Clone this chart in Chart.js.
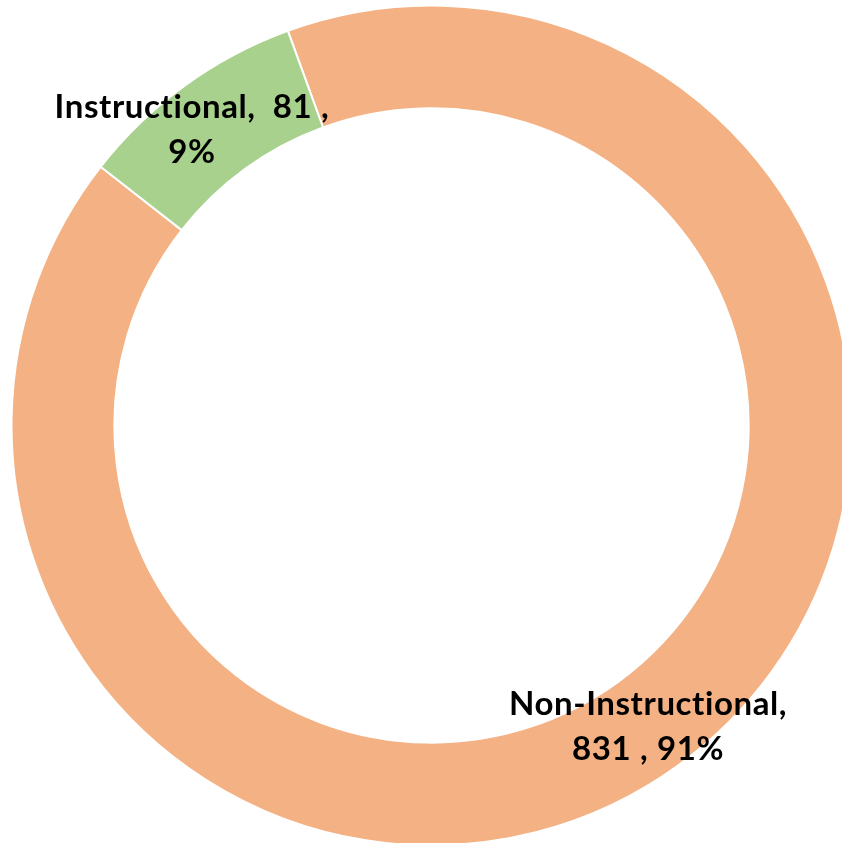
<!DOCTYPE html>
<html lang="en">
<head>
    <meta charset="UTF-8">
    <title>Staff doughnut</title>
    <script src="https://cdn.jsdelivr.net/npm/chart.js"></script>
    <style>
        html, body { margin: 0; padding: 0; background: #fff; overflow: hidden; }
        #wrap { position: absolute; left: 0; top: 0; width: 863px; height: 851px; }
    </style>
</head>
<body>
    <div id="wrap"><canvas id="staffChart" width="863" height="851"></canvas></div>
    <script>
        // Data
        const categories = ['Non-Instructional', 'Instructional'];
        const counts = [831, 81];
        const percents = ['91%', '9%'];
        const colors = ['#F4B183', '#A9D18E'];

        // Label text split into two lines like the original
        const labelLines = [
            ['Non-Instructional,', counts[0] + ' , ' + percents[0]],
            ['Instructional,  ' + counts[1] + ' ,', percents[1]]
        ];

        const sliceLabels = {
            id: 'sliceLabels',
            afterDatasetsDraw(chart) {
                const ctx = chart.ctx;
                const meta = chart.getDatasetMeta(0);
                ctx.save();
                ctx.font = 'bold 33px Lato';
                ctx.letterSpacing = '0.6px';
                ctx.fillStyle = '#000';
                ctx.textAlign = 'center';
                ctx.textBaseline = 'alphabetic';
                meta.data.forEach((arc, i) => {
                    const p = arc.tooltipPosition();
                    const dx = i === 1 ? -23 : 0;
                    const lines = labelLines[i];
                    ctx.fillText(lines[0], p.x + dx, p.y - 9);
                    ctx.fillText(lines[1], p.x + dx, p.y + 36);
                });
                ctx.restore();
            }
        };

        new Chart(document.getElementById('staffChart'), {
            type: 'doughnut',
            data: {
                labels: categories,
                datasets: [{
                    data: counts,
                    backgroundColor: colors,
                    borderColor: '#fff',
                    borderWidth: 2
                }]
            },
            options: {
                responsive: false,
                animation: false,
                rotation: -20,
                radius: 420,
                cutout: 316,
                layout: { padding: { left: 12, right: 12, top: 6, bottom: 6 } },
                plugins: {
                    legend: { display: false },
                    tooltip: { enabled: false }
                }
            },
            plugins: [sliceLabels]
        });
    </script>
</body>
</html>
